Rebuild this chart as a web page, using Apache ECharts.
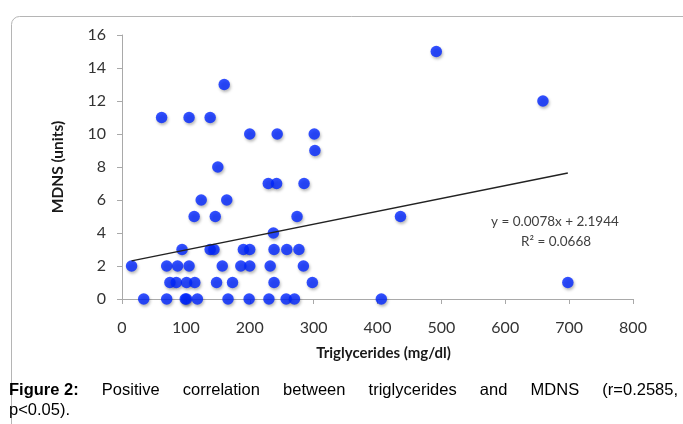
<!DOCTYPE html>
<html>
<head>
<meta charset="utf-8">
<script src="https://cdn.jsdelivr.net/npm/echarts@6/dist/echarts.min.js"></script>
<style>
html,body{margin:0;padding:0;background:#fff;}
#chart{width:683px;height:424px;}
</style>
</head>
<body>
<div id="chart"></div>
<script>
// Data
const triglycerides = [
  34, 70, 99, 101, 118, 166, 199, 230, 257, 270, 406,      // MDNS 0
  75, 85, 101, 114, 148, 173, 238, 298, 698,                // MDNS 1
  15, 70, 87, 105, 157, 186, 200, 232, 284,                 // MDNS 2
  94, 138, 144, 190, 200, 238, 258, 277,                    // MDNS 3
  237,                                                      // MDNS 4
  113, 146, 274, 436,                                       // MDNS 5
  124, 164,                                                 // MDNS 6
  229, 242, 285,                                            // MDNS 7
  150,                                                      // MDNS 8
  302,                                                      // MDNS 9
  200, 243, 301,                                            // MDNS 10
  62, 105, 138,                                             // MDNS 11
  659,                                                      // MDNS 12
  160,                                                      // MDNS 13
  492                                                       // MDNS 15
];
const mdns = [
  0,0,0,0,0,0,0,0,0,0,0,
  1,1,1,1,1,1,1,1,1,
  2,2,2,2,2,2,2,2,2,
  3,3,3,3,3,3,3,3,
  4,
  5,5,5,5,
  6,6,
  7,7,7,
  8,
  9,
  10,10,10,
  11,11,11,
  12,
  13,
  15
];
// Trend line end points
const trendX = [15, 698];
const trendY = [2.31, 7.64];
const equationText = 'y = 0.0078x + 2.1944';
const r2Text = 'R² = 0.0668';
const xTicks = [0, 800, 100];
const yTicks = [0, 16, 2];
const xName = 'Triglycerides (mg/dl)';
const yName = 'MDNS (units)';
const captionBold = 'Figure 2:';
const captionWords = ['Positive', 'correlation', 'between', 'triglycerides', 'and', 'MDNS', '(r=0.2585,'];
const captionLine2 = 'p<0.05).';

const chart = echarts.init(document.getElementById('chart'), null, {renderer: 'canvas'});

const points = triglycerides.map((x, i) => [x, mdns[i]]);
const trend = trendX.map((x, i) => [x, trendY[i]]);

// justify caption line 1
const ctx = document.createElement('canvas').getContext('2d');
const capFont = '16.5px "Liberation Sans", Arial, sans-serif';
const capBoldFont = 'bold 16.5px "Liberation Sans", Arial, sans-serif';
ctx.font = capBoldFont;
const wBold = ctx.measureText(captionBold).width;
ctx.font = capFont;
const wWords = captionWords.map(w => ctx.measureText(w).width);
const lineLeft = 9, lineRight = 678;
const totalW = wBold + wWords.reduce((a, b) => a + b, 0);
const gap = (lineRight - lineLeft - totalW) / captionWords.length;
const capElems = [{
  type: 'text', left: lineLeft, top: 382,
  style: {text: captionBold, font: capBoldFont, fill: '#000'}
}];
let cx = lineLeft + wBold + gap;
captionWords.forEach((w, i) => {
  capElems.push({type: 'text', left: cx, top: 382, style: {text: w, font: capFont, fill: '#000'}});
  cx += wWords[i] + gap;
});
capElems.push({type: 'text', left: lineLeft, top: 402, style: {text: captionLine2, font: capFont, fill: '#000'}});

const axisColor = '#a9a9a9';
const labelColor = '#333333';

chart.setOption({
  animation: false,
  backgroundColor: '#fff',
  grid: {left: 122, right: 50, top: 35, bottom: 125, containLabel: false},
  xAxis: {
    type: 'value', min: xTicks[0], max: xTicks[1], interval: xTicks[2],
    name: xName, nameLocation: 'middle', nameGap: 47,
    nameTextStyle: {fontFamily: 'Lato', fontWeight: 'bold', fontSize: 15, color: '#1a1a1a', padding: [0, 0, 0, 12]},
    axisLine: {show: true, lineStyle: {color: axisColor, width: 1}},
    axisTick: {show: true, length: 5, lineStyle: {color: axisColor}},
    axisLabel: {color: labelColor, fontFamily: 'Lato', fontSize: 16, margin: 21},
    splitLine: {show: false}
  },
  yAxis: {
    type: 'value', min: yTicks[0], max: yTicks[1], interval: yTicks[2],
    name: yName, nameLocation: 'middle', nameGap: 56, nameRotate: 90,
    nameTextStyle: {fontFamily: 'Lato', fontWeight: 'bold', fontSize: 15.5, color: '#1a1a1a'},
    axisLine: {show: true, lineStyle: {color: axisColor, width: 1}},
    axisTick: {show: true, length: 5, lineStyle: {color: axisColor}},
    axisLabel: {color: labelColor, fontFamily: 'Lato', fontSize: 16, margin: 16},
    splitLine: {show: false}
  },
  series: [
    {
      type: 'scatter', data: points, symbol: 'circle', symbolSize: 11.5, z: 2,
      itemStyle: {color: '#0026ff', shadowColor: 'rgba(0,0,0,0.35)', shadowBlur: 3, shadowOffsetY: 2, shadowOffsetX: 1}
    },
    {
      type: 'line', data: trend, symbol: 'none', z: 3,
      lineStyle: {color: '#222', width: 1.5}
    }
  ],
  graphic: [
    {type: 'rect', left: 9, top: 14, z: -1, silent: true,
     shape: {width: 800, height: 600, r: 8},
     style: {fill: 'none', stroke: '#b5b5b5', lineWidth: 1}},
    {type: 'text', left: 491, top: 215,
     style: {text: equationText, font: '13.5px Lato', fill: '#404040'}},
    {type: 'text', left: 521, top: 235,
     style: {text: r2Text, font: '13.5px Lato', fill: '#404040'}}
  ].concat(capElems)
});
</script>
</body>
</html>
